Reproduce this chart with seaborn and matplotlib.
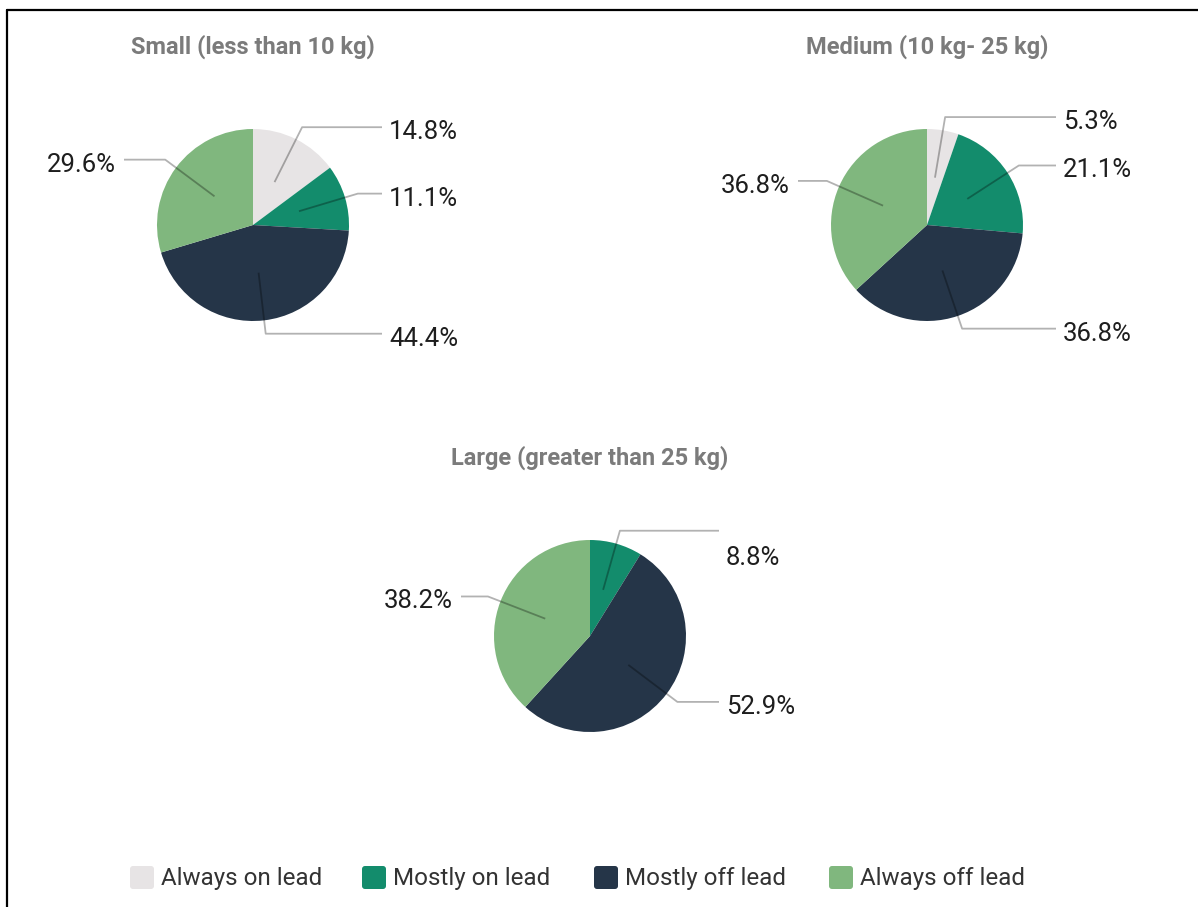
import numpy as np
import matplotlib
matplotlib.use("Agg")
import matplotlib.pyplot as plt
from matplotlib.patches import FancyBboxPatch
import seaborn as sns

sns.set_theme(style="white")
plt.rcParams["font.family"] = ["Roboto", "DejaVu Sans"]

# Data
categories = ["Always on lead", "Mostly on lead", "Mostly off lead", "Always off lead"]
colors = ["#e7e4e5", "#138c6c", "#253548", "#80b77e"]
titles = ["Small (less than 10 kg)", "Medium (10 kg- 25 kg)", "Large (greater than 25 kg)"]
small = [14.8, 11.1, 44.4, 29.6]
medium = [5.3, 21.1, 36.8, 36.8]
large = [0.0, 8.8, 52.9, 38.2]
groups = [small, medium, large]

W, H = 1198, 907
fig = plt.figure(figsize=(W / 100, H / 100), dpi=100)
ax = fig.add_axes([0, 0, 1, 1])

# pie centres / radius in pixel space (y measured from top)
centers = [(253, 225), (927, 225), (590, 636)]
title_y = [47, 47, 458]
R = 96
# extra vertical nudge (px) for labels that would crowd the connector
nudges = {(2, 1): 22}


def py(y):
    return H - y


for gi, (vals, (cx, cy)) in enumerate(zip(groups, centers)):
    ax.pie(vals, colors=colors, radius=R, center=(cx, py(cy)),
           startangle=90, counterclock=False,
           wedgeprops=dict(linewidth=0))
    ax.text(cx, py(title_y[gi]), titles[gi], ha="center", va="center",
            fontsize=17, fontweight="bold", color="#7b7b7b")
    total = sum(vals)
    start = 90.0
    for si, v in enumerate(vals):
        sweep = v / total * 360.0
        if v <= 0:
            continue
        mid = np.deg2rad(start - sweep / 2)
        start -= sweep
        c, s = np.cos(mid), np.sin(mid)
        x0, y0 = cx + 0.5 * R * c, py(cy) + 0.5 * R * s
        x1, y1 = cx + 1.14 * R * c, py(cy) + 1.14 * R * s
        right = c >= 0
        x2 = cx + 129 if right else cx - 129
        # translucent connector: light on white, darker over the slices
        ax.plot([x0, x1, x2], [y0, y1, y1], color="black", alpha=0.3, lw=1.3,
                solid_capstyle="butt", zorder=3)
        ty = y1 - 5 - nudges.get((gi, si), 0)
        ax.text(x2 + 7 if right else x2 - 8, ty, f"{v:.1f}%",
                ha="left" if right else "right", va="center",
                fontsize=18.5, color="#1e1e1e")

# legend with rounded swatches
leg_x = [130, 362, 594, 829]
for lx, cat, col in zip(leg_x, categories, colors):
    ax.add_patch(FancyBboxPatch((lx + 3, py(889) + 3), 18, 17,
                                boxstyle="round,pad=3", fc=col, ec="none"))
    ax.text(lx + 31, py(879), cat, ha="left", va="center",
            fontsize=17.4, color="#333333")

# frame lines on the top and left edges
ax.plot([7, W], [py(9.5), py(9.5)], color="black", lw=1.6)
ax.plot([7, 7], [py(9.5), 0], color="black", lw=1.6)

ax.set_xlim(0, W)
ax.set_ylim(0, H)
ax.set_aspect("equal")
ax.axis("off")
fig.savefig("out.png", dpi=100)
